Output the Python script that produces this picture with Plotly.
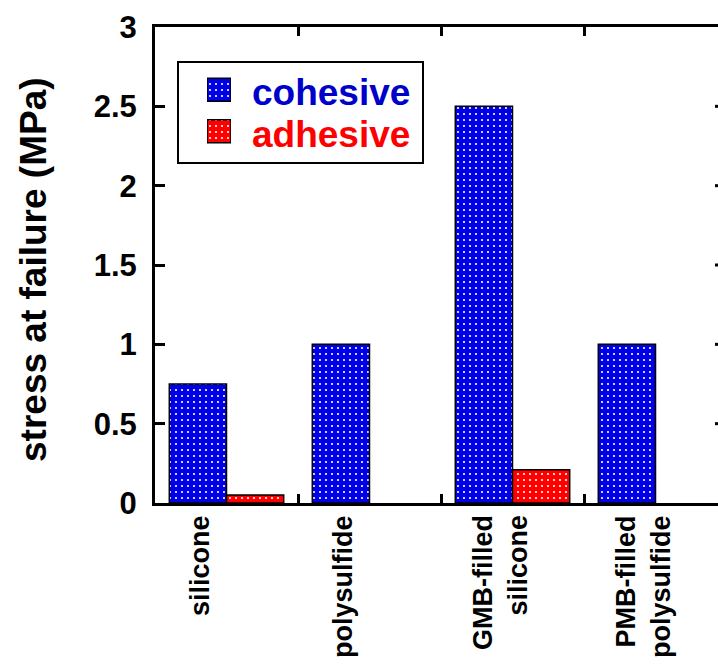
import plotly.graph_objects as go

# ---- data -------------------------------------------------------------
categories = ["silicone", "polysulfide", "GMB-filled<br>silicone", "PMB-filled<br>polysulfide"]
series_names = ["cohesive", "adhesive"]
cohesive = [0.75, 1.0, 2.5, 1.0]
adhesive = [0.05, None, 0.21, None]
y_ticks = [0, 0.5, 1, 1.5, 2, 2.5, 3]
y_title = "stress at failure (MPa)"

# ---- style ------------------------------------------------------------
W, H = 718, 669
ML, MT, MB = 155, 27, 166
PLOT_W = W - ML
PLOT_H = H - MT - MB
SLOT = 143.0  # pixel width of one category slot

bar_fill = ["#0000E6", "#FF0000"]
text_col = ["#0000CC", "#FF0000"]
FONT = "Arial, Liberation Sans, Helvetica, sans-serif"
dots = dict(shape=".", fgcolor="white", size=6, solidity=0.1, fillmode="replace")


def px_x(x):
    return (x - ML) / PLOT_W


def px_y(y):
    return (MT + PLOT_H - y) / PLOT_H


fig = go.Figure()
for name, vals, col in zip(series_names, [cohesive, adhesive], bar_fill):
    fig.add_trace(go.Bar(
        x=categories, y=vals, name=name, showlegend=False,
        marker=dict(color=col, line=dict(color="black", width=1.5),
                    pattern=dict(bgcolor=col, **dots)),
    ))

# legend swatches as small bars on their own hidden axes
for name, col in zip(series_names, bar_fill):
    fig.add_trace(go.Bar(
        x=[1], y=[name], orientation="h", width=0.55, showlegend=False,
        xaxis="x2", yaxis="y2",
        marker=dict(color=col, line=dict(color="black", width=1.5),
                    pattern=dict(bgcolor=col, **dots)),
    ))

x_hi = -0.5 + PLOT_W / SLOT

fig.update_layout(
    width=W, height=H, autosize=False,
    margin=dict(l=ML, r=0, t=MT, b=MB, pad=0),
    paper_bgcolor="white", plot_bgcolor="white",
    barmode="group", bargap=0.2, bargroupgap=0,
    showlegend=False,
    font=dict(family=FONT, color="black"),
    xaxis=dict(
        type="category", range=[-0.5, x_hi], tickson="boundaries",
        showticklabels=False, ticks="inside", ticklen=9, tickwidth=3,
        tickcolor="black", showline=True, linewidth=3, linecolor="black",
        mirror="ticks", showgrid=False, zeroline=False,
    ),
    yaxis=dict(
        range=[0, 3], tickvals=y_ticks, ticks="inside", ticklen=10,
        tickwidth=3, tickcolor="black", showline=True, linewidth=3,
        linecolor="black", showgrid=False, zeroline=False,
        tickfont=dict(family=FONT, size=31, weight="bold", color="black"),
        ticklabelstandoff=9,
    ),
    xaxis2=dict(domain=[px_x(207), px_x(231)], range=[0, 1], anchor="y2",
                visible=False, fixedrange=True),
    yaxis2=dict(domain=[px_y(152), px_y(69)], range=[-0.5, 1.5], anchor="x2",
                type="category", categoryorder="array",
                categoryarray=series_names[::-1], visible=False, fixedrange=True),
)

# legend frame
fig.add_shape(type="rect", xref="paper", yref="paper",
              x0=px_x(178), x1=px_x(423), y0=px_y(163), y1=px_y(62),
              line=dict(color="black", width=2), fillcolor="rgba(0,0,0,0)",
              layer="above")

# legend labels
for i, (name, col) in enumerate(zip(series_names, text_col)):
    fig.add_annotation(
        text=name, xref="paper", yref="paper", x=px_x(250), y=px_y(93 + 41 * i),
        xanchor="left", yanchor="middle", showarrow=False,
        font=dict(family=FONT, size=37, weight="bold", color=col),
    )

# short ticks on the right-hand frame edge
for v in y_ticks[1:-1]:
    fig.add_shape(type="line", xref="paper", yref="y",
                  x0=px_x(715), x1=1.0, y0=v, y1=v,
                  line=dict(color="black", width=3))

# category labels, rotated, hanging below the axis
for cat in categories:
    n_lines = cat.count("<br>") + 1
    fig.add_annotation(
        text=cat, x=cat, xref="x", y=0, yref="paper",
        xanchor="center", yanchor="top", textangle=-90, align="right",
        xshift=-27 + 15 * (n_lines - 1), yshift=-10, showarrow=False,
        font=dict(family=FONT, size=27, weight="bold", color="black"),
    )

# y-axis title
fig.add_annotation(
    text=y_title, xref="paper", yref="paper", x=px_x(33), y=px_y(270),
    xanchor="center", yanchor="middle", textangle=-90, showarrow=False,
    font=dict(family=FONT, size=37, weight="bold", color="black"),
)

fig.write_html("out.html")
